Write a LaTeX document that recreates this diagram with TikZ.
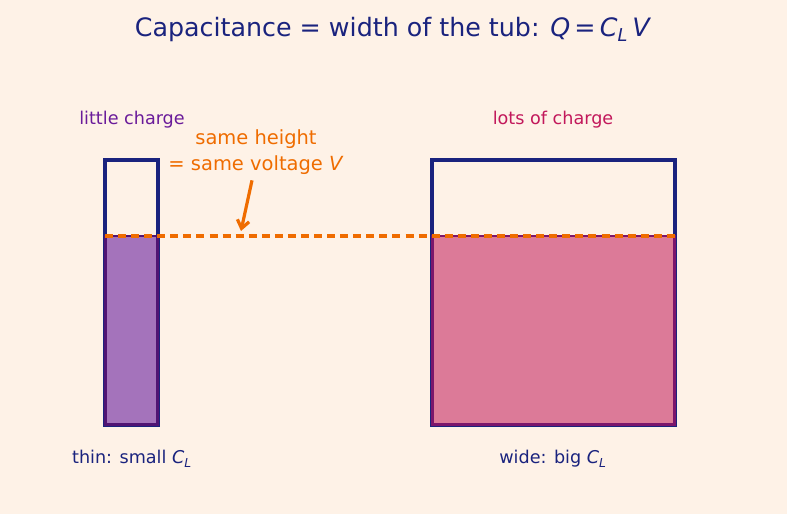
\documentclass[tikz,border=0pt]{standalone}
\usepackage{fontspec}
\setmainfont{DejaVu Sans}
\usetikzlibrary{arrows.meta}
\definecolor{bgcol}{HTML}{FEF2E7}
\definecolor{navy}{HTML}{1A237E}
\definecolor{plum}{HTML}{6A1B9A}
\definecolor{rose}{HTML}{C2185B}
\definecolor{amber}{HTML}{EF6C00}
\definecolor{plumfill}{HTML}{A473BB}
\definecolor{rosefill}{HTML}{DC7A98}
\newcommand{\CL}{\textit{C}\textsubscript{\textit{L}}}
\tikzset{
  tub/.style={draw=navy, line width=2.6pt},
  water/.style={line width=2pt},
  lbl/.style={font=\fontsize{13.2}{16}\selectfont, align=center, inner sep=0pt}
}
\begin{document}
\begin{tikzpicture}[x=0.75pt,y=-0.75pt]
\fill[bgcol] (0,0) rectangle (787,514);
\useasboundingbox (0,0) rectangle (787,514);
\node[navy, font=\fontsize{19}{23}\selectfont, inner sep=0pt] (title) at (393,30) {Capacitance = width of the tub: \textit{Q}\,=\,\CL\,\textit{V}};
\draw[tub] (105,160) rectangle (158,425);
\draw[tub] (432,160) rectangle (675,425);
\fill[plumfill, draw=plum!75!black, water] (105.5,236) rectangle (157.5,424.5);
\fill[rosefill, draw=rose!45!plum!85!black, water] (432.5,236) rectangle (674.5,424.5);
\coordinate (lvl1) at (105,236);
\coordinate (lvl2) at (675,236);
\draw[amber, line width=2.8pt, dash pattern=on 6pt off 3.8pt] (lvl1) -- (lvl2);
\node[lbl, plum] (little) at (132,119.5) {little charge};
\node[lbl, rose] (lots) at (553,119.5) {lots of charge};
\node[lbl, amber, font=\fontsize{14.6}{18}\selectfont] (same) at (256,152) {same height\\[1pt]= same voltage \textit{V}};
\coordinate (tip) at (241,231);
\draw[amber, line width=2.4pt, -{Straight Barb[length=6pt,width=9pt]}] (same.south) ++(-4,6) -- (tip);
\node[lbl, navy] (thin) at (132,459) {thin: small \CL};
\node[lbl, navy] (wide) at (553,459) {wide: big \CL};
\end{tikzpicture}
\end{document}
